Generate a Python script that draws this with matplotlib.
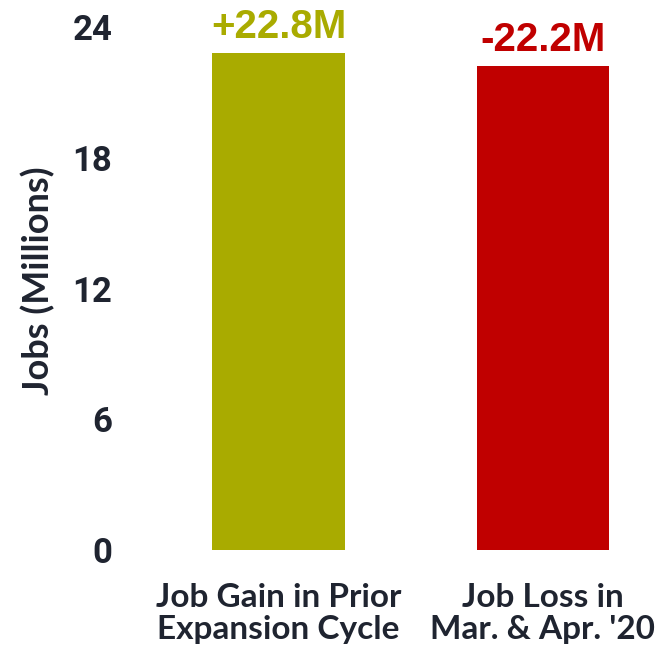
import matplotlib
matplotlib.use("Agg")
import matplotlib.pyplot as plt

categories = ["Job Gain in Prior\nExpansion Cycle", "Job Loss in\nMar. & Apr. '20"]
values = [22.8, 22.2]
value_labels = ["+22.8M", "-22.2M"]
bar_colors = ["#A9AB00", "#C00000"]
yticks = [0, 6, 12, 18, 24]

INK = "#1F2430"

fig = plt.figure(figsize=(6.58, 6.48), dpi=100)
# axes placed in pixels: left 140, right 658, y=0 at 550px, y=24 at 27px (from top)
ax = fig.add_axes([140 / 658, 98 / 648, 518 / 658, 523 / 648])

x = list(range(len(values)))
ax.bar(x, values, width=0.5, color=bar_colors)

for xi, v, lab, c in zip(x, values, value_labels, bar_colors):
    ax.annotate(lab, (xi, v), xytext=(0, 11), textcoords="offset points",
                ha="center", va="baseline", fontsize=29, fontweight="bold",
                color=c, family="Liberation Sans")

ax.set_xlim(-0.524, 1.435)
ax.set_ylim(0, 24)
ax.set_yticks(yticks)
ax.set_yticklabels([str(t) for t in yticks], fontsize=25, fontweight="bold",
                   color=INK, family="Roboto")
ax.set_xticks(x)
ax.set_xticklabels(categories, fontsize=24, color=INK, family="Lato",
                   fontweight="bold", linespacing=1.12)
ax.tick_params(axis="both", length=0)
ax.tick_params(axis="y", pad=20)
ax.tick_params(axis="x", pad=24)

ax.set_ylabel("Jobs (Millions)", fontsize=26, fontweight="bold", color=INK,
              family="Lato")
ax.yaxis.set_label_coords(-0.163, 0.515)

for s in ax.spines.values():
    s.set_visible(False)

fig.savefig("out.png", dpi=100, facecolor="white")
